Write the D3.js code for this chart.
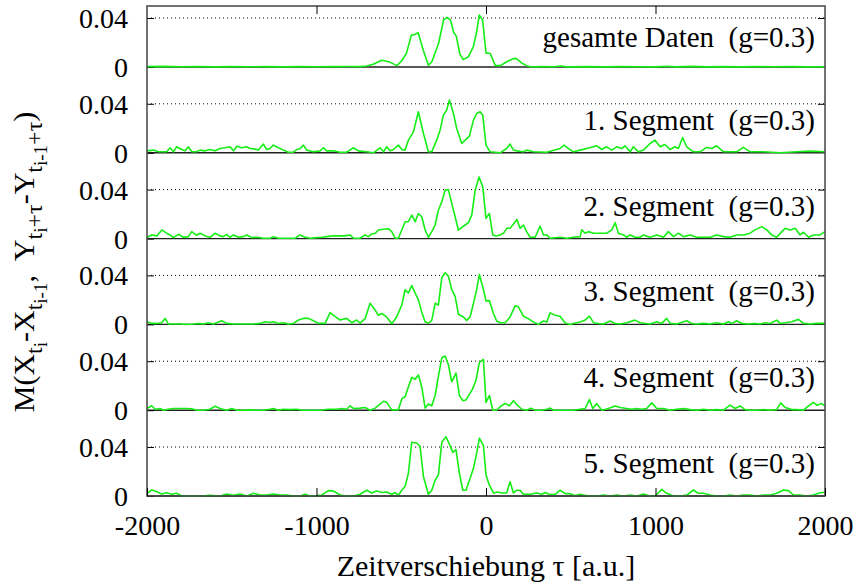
<!DOCTYPE html>
<html>
<head>
<meta charset="utf-8">
<script src="https://cdn.jsdelivr.net/npm/d3@7"></script>
<style>
  body { margin: 0; background: #fff; }
  svg { display: block; }
  svg text { font-family: "Liberation Serif", "Times New Roman", Times, serif; }
</style>
</head>
<body>
<svg width="856" height="588"></svg>
<script>
// [tau, M] pairs
const gesamt = [[-2000,0.0003],[-1900,0.0005],[-1800,0.0002],[-1700,0.0004],[-1600,0.0001],[-1500,0.0003],[-1400,0.0002],[-1300,0.0003],[-1200,0.0001],[-1100,0.0003],[-1000,0.0002],[-900,0.0003],[-800,0.0004],[-745,0.0003],[-705,0.0008],[-665,0.0022],[-615,0.0055],[-585,0.0047],[-565,0.0038],[-525,0.0011],[-495,0.0055],[-470,0.011],[-440,0.026],[-420,0.0266],[-400,0.028],[-370,0.0137],[-340,0.0014],[-320,0.0041],[-280,0.0192],[-250,0.0384],[-230,0.0405],[-210,0.0384],[-190,0.028],[-175,0.0252],[-155,0.011],[-135,0.006],[-105,0.0082],[-75,0.0164],[-55,0.0288],[-40,0.0425],[-20,0.0384],[0,0.0115],[25,0.011],[55,0.0011],[85,0.0011],[120,0.0041],[160,0.0068],[180,0.0068],[210,0.0033],[240,0.0011],[270,0],[320,0.0003],[400,0.0002],[440,0.0008],[480,0.0001],[600,0.0003],[700,0.0001],[800,0.0003],[900,0.0002],[1000,0.0001],[1065,0.0006],[1120,0.0001],[1220,0.0005],[1300,0.0001],[1400,0.0003],[1500,0.0001],[1600,0.0003],[1700,0.0002],[1800,0.0003],[1900,0.0001],[2000,0.0002]];

const seg1 = [[-2000,0.0016],[-1962,0.0022],[-1933,0.0008],[-1884,0.0008],[-1864,0.0041],[-1844,0.0008],[-1825,0.0049],[-1795,0.0027],[-1775,0.0016],[-1756,0.0049],[-1736,0.0008],[-1707,0.0008],[-1687,0.0022],[-1657,0.0016],[-1628,0.0027],[-1598,0.0016],[-1569,0.0035],[-1539,0.0041],[-1510,0.0049],[-1490,0.0016],[-1470,0.0054],[-1441,0.0041],[-1411,0.0049],[-1392,0.0035],[-1362,0.003],[-1343,0.0022],[-1313,0.0071],[-1294,0.0027],[-1274,0.0035],[-1254,0.0063],[-1225,0.0041],[-1195,0.0022],[-1166,0.0005],[-1136,0.0005],[-1117,0.0027],[-1097,0.0033],[-1077,0.0063],[-1058,0.0022],[-1018,0.0008],[-979,0.0016],[-959,0.0041],[-940,0.0016],[-900,0.0016],[-861,0.0005],[-822,0.0005],[-782,0.0041],[-753,0.0016],[-704,0.0008],[-664,0],[-625,0.0041],[-605,0.0008],[-586,0.0049],[-566,0.0016],[-546,0.0027],[-517,0.0063],[-497,0.0027],[-477,0.0022],[-458,0.0103],[-428,0.0171],[-399,0.0335],[-369,0.0158],[-340,0.0008],[-320,0.0008],[-291,0.0103],[-271,0.0185],[-251,0.0307],[-232,0.0348],[-216,0.043],[-192,0.0321],[-173,0.0199],[-143,0.0076],[-123,0.0103],[-98,0.0136],[-74,0.0267],[-55,0.0321],[-35,0.0335],[-19,0.0307],[0,0.0063],[24,0.0008],[83,0],[122,0.0035],[142,0.0071],[162,0.0022],[182,0.0016],[221,0.0008],[240,0.0022],[280,0.0008],[358,0.0005],[437,0.0035],[461,0.0063],[486,0.0035],[516,0.0008],[555,0.0022],[614,0.0041],[653,0.0057],[683,0.0027],[712,0.0049],[742,0.0022],[771,0.0049],[801,0.0035],[820,0.0057],[850,0.0008],[870,0.0049],[899,0.0008],[929,0.0022],[968,0.0076],[997,0.0103],[1027,0.0049],[1056,0.0068],[1086,0.0027],[1115,0.0049],[1135,0.0035],[1160,0.0125],[1184,0.0049],[1223,0.0008],[1263,0.0008],[1302,0.0044],[1332,0.0035],[1361,0.0057],[1401,0.0008],[1479,0.0008],[1518,0.0044],[1558,0.0008],[1637,0.0008],[1735,0],[1833,0.0008],[1912,0.0014],[2000,0.0008]];

const seg2 = [[-2000,0.0011],[-1972,0.003],[-1942,0.0022],[-1913,0.0071],[-1884,0.0044],[-1864,0.003],[-1844,0.0008],[-1815,0.0035],[-1785,0.0011],[-1756,0.0016],[-1736,0.0057],[-1707,0.0027],[-1687,0.0044],[-1657,0.0022],[-1628,0.0011],[-1598,0.0044],[-1569,0.0022],[-1549,0.0016],[-1530,0.0035],[-1510,0.0011],[-1490,0.003],[-1461,0.0011],[-1431,0.0016],[-1411,0.003],[-1382,0.0008],[-1352,0.0011],[-1313,0.0003],[-1274,0.0003],[-1254,0.0016],[-1225,0.0003],[-1195,0.0003],[-1156,0.0003],[-1126,0.0003],[-1097,0.003],[-1067,0.0011],[-1038,0.0003],[-999,0.0008],[-969,0.0011],[-940,0.0016],[-900,0.0022],[-861,0.0022],[-831,0.0022],[-802,0.003],[-782,0.0003],[-743,0.0003],[-713,0.003],[-694,0.0016],[-674,0.0038],[-654,0.0043],[-635,0.007],[-605,0.0076],[-576,0.0081],[-556,0.0057],[-536,0.0003],[-517,0.0003],[-497,0.007],[-477,0.0138],[-458,0.0138],[-438,0.0192],[-418,0.0138],[-399,0.0205],[-379,0.0178],[-359,0.007],[-340,0.0011],[-320,0.0057],[-300,0.0111],[-281,0.0232],[-261,0.03],[-241,0.0395],[-222,0.04],[-202,0.0286],[-182,0.0178],[-163,0.007],[-143,0.0092],[-123,0.0111],[-104,0.013],[-84,0.0192],[-64,0.0395],[-41,0.0503],[-19,0.0422],[0,0.0165],[20,0.0205],[40,0.003],[60,0.0022],[83,0.003],[103,0.0043],[122,0.0084],[142,0.0084],[162,0.0119],[182,0.0157],[201,0.0084],[221,0.0111],[240,0.0057],[260,0.0011],[290,0.0011],[319,0.0103],[339,0.003],[359,0.003],[378,0.0003],[437,0.0011],[477,0.0003],[516,0.0011],[555,0.0016],[565,0.0071],[585,0.0044],[604,0.0057],[634,0.0044],[673,0.0044],[712,0.0044],[742,0.0071],[762,0.0131],[781,0.0044],[811,0.003],[830,0.0011],[850,0.003],[880,0.0011],[909,0.0011],[929,0.003],[968,0.0011],[1007,0.003],[1047,0.0011],[1076,0.0057],[1106,0.0016],[1135,0.0044],[1165,0.0016],[1204,0.003],[1244,0.0011],[1283,0.0011],[1322,0.0011],[1361,0.003],[1401,0.0016],[1440,0.0011],[1479,0.003],[1519,0.003],[1558,0.0044],[1587,0.0071],[1627,0.0098],[1656,0.0071],[1686,0.003],[1715,0.0011],[1745,0.0057],[1765,0.0084],[1794,0.0071],[1824,0.0084],[1853,0.003],[1873,0.0052],[1903,0.0011],[1932,0.003],[1971,0.003],[2000,0.0057]];

const seg3 = [[-2000,0.0022],[-1972,0.0008],[-1942,0.0008],[-1913,0.0014],[-1893,0.0049],[-1874,0.0003],[-1844,0.0003],[-1805,0.0003],[-1766,0],[-1726,0.0003],[-1697,0.0008],[-1667,0.0003],[-1638,0.0014],[-1608,0.0003],[-1559,0.003],[-1530,0.0008],[-1490,0.0003],[-1451,0.0003],[-1411,0.0003],[-1372,0.0003],[-1333,0.0008],[-1303,0.0022],[-1274,0.0016],[-1254,0.0022],[-1225,0.0008],[-1195,0.0014],[-1166,0.0003],[-1136,0.0008],[-1107,0.0036],[-1077,0.0049],[-1048,0.0049],[-1018,0.003],[-989,0.0008],[-949,0.0008],[-920,0.0096],[-890,0.0063],[-861,0.0036],[-822,0.0049],[-792,0.0014],[-763,0.0036],[-743,0.0011],[-713,0.0047],[-684,0.0172],[-654,0.0117],[-635,0.0075],[-615,0.0089],[-586,0.0061],[-556,0.0006],[-527,0.0061],[-497,0.0158],[-477,0.0283],[-458,0.0256],[-438,0.0317],[-418,0.0256],[-399,0.02],[-379,0.01],[-359,0.0019],[-340,0.0011],[-320,0.0033],[-300,0.0172],[-281,0.0158],[-261,0.0381],[-241,0.0422],[-222,0.0394],[-202,0.0283],[-182,0.0228],[-163,0.0083],[-133,0.0061],[-114,0.0033],[-94,0.0061],[-74,0.0172],[-55,0.0283],[-39,0.0408],[-15,0.0283],[0,0.0192],[20,0.0194],[44,0.0089],[63,0.0028],[83,0.0014],[113,0.0014],[142,0.0061],[172,0.0153],[191,0.0144],[221,0.0067],[250,0.0047],[280,0.0019],[309,0],[339,0.0028],[359,0.0019],[378,0.0094],[408,0.0075],[437,0.0067],[467,0.0011],[496,0],[526,0.0011],[555,0.0019],[585,0.0035],[610,0.0068],[634,0.0014],[663,0.0008],[693,0.0003],[732,0.0027],[762,0.0008],[791,0.0003],[830,0.0014],[879,0.0035],[909,0.0014],[968,0.0003],[1007,0.0022],[1037,0.0008],[1066,0.0049],[1086,0.0008],[1125,0.0003],[1184,0.003],[1214,0.0008],[1243,0.0003],[1283,0.0008],[1322,0.0003],[1361,0.0014],[1401,0.0003],[1430,0.0022],[1450,0.0008],[1479,0.003],[1509,0.0008],[1548,0.0003],[1588,0.0008],[1617,0.0003],[1646,0.0014],[1676,0.0008],[1716,0.0035],[1735,0.0008],[1765,0.0014],[1804,0.0022],[1843,0.0041],[1873,0.0008],[1912,0.0003],[1951,0.0008],[2000,0.0008]];

const seg4 = [[-2000,0.0014],[-1972,0.0036],[-1952,0.0008],[-1923,0.0014],[-1903,0],[-1874,0.0008],[-1844,0.0014],[-1795,0.0014],[-1766,0.0014],[-1736,0.0011],[-1707,0],[-1667,0],[-1628,0.0008],[-1598,0.0033],[-1569,0.0014],[-1530,0],[-1500,0.0014],[-1470,0],[-1431,0],[-1392,0.0003],[-1352,0],[-1313,0],[-1274,0.0008],[-1254,0.0014],[-1225,0],[-1195,0.0008],[-1156,0.0005],[-1117,0.0008],[-1087,0],[-1048,0],[-1008,0],[-979,0],[-930,0.0008],[-880,0.0008],[-851,0.0014],[-822,0.0008],[-802,0.0036],[-782,0.0014],[-743,0.0017],[-713,0.0022],[-684,0],[-654,0.0017],[-625,0.005],[-605,0.0073],[-586,0.0064],[-556,0.0003],[-517,0.0003],[-497,0.0092],[-477,0.0112],[-458,0.019],[-438,0.0268],[-418,0.0252],[-399,0.0288],[-379,0.019],[-359,0.0017],[-340,0.005],[-320,0.0036],[-300,0.012],[-281,0.0274],[-261,0.0428],[-241,0.0442],[-222,0.0372],[-202,0.0232],[-177,0.0302],[-157,0.012],[-137,0.0078],[-118,0.0084],[-98,0.0129],[-78,0.0176],[-59,0.0246],[-39,0.0391],[-15,0.0414],[0,0.0064],[20,0.012],[40,0],[63,0],[83,0.0028],[113,0.0056],[138,0.0036],[162,0.0078],[182,0.0045],[211,0.0008],[240,0],[264,0.0017],[290,0],[329,0],[359,0.0008],[378,0.0017],[398,0],[437,0],[477,0],[516,0],[555,0.0008],[585,0.0014],[610,0.0087],[630,0.0014],[653,0.0054],[683,0],[722,0.0014],[762,0.0035],[791,0.0022],[830,0.0014],[860,0.0008],[889,0.0014],[919,0.0008],[948,0.0014],[978,0.006],[1007,0.0014],[1047,0.0014],[1086,0],[1125,0.0008],[1165,0.0014],[1204,0.0005],[1243,0],[1283,0.0008],[1322,0],[1361,0.0005],[1401,0],[1440,0.0041],[1469,0.0014],[1499,0.0035],[1528,0.0005],[1558,0],[1597,0],[1637,0.0005],[1676,0],[1715,0.0005],[1739,0.006],[1765,0.0022],[1804,0.0005],[1834,0.0005],[1873,0],[1903,0.0035],[1932,0.0063],[1952,0.0041],[1981,0.0054],[2000,0.0035]];

const seg5 = [[-2000,0.0022],[-1972,0.0049],[-1942,0.0035],[-1913,0.0016],[-1884,0.0027],[-1854,0.0014],[-1825,0.0022],[-1795,0],[-1746,0],[-1687,0],[-1628,0.0005],[-1569,0],[-1530,0.0016],[-1490,0.0005],[-1451,0.0016],[-1411,0],[-1372,0.0022],[-1333,0.0008],[-1294,0.0008],[-1254,0.0016],[-1215,0.0008],[-1176,0.0008],[-1136,0],[-1097,0],[-1067,0.0014],[-1038,0],[-999,0.0003],[-969,0.0008],[-930,0.0044],[-900,0.0041],[-861,0.0008],[-822,0],[-782,0],[-743,0.0014],[-704,0.0047],[-674,0.0025],[-645,0.0041],[-615,0.0028],[-586,0.0033],[-556,0.0014],[-536,0.0028],[-517,0.0006],[-497,0.0047],[-477,0.008],[-458,0.0185],[-438,0.0439],[-409,0.0433],[-389,0.0406],[-369,0.0157],[-340,0.0014],[-320,0.0047],[-300,0.013],[-281,0.0171],[-261,0.0439],[-236,0.0483],[-212,0.0411],[-196,0.0356],[-177,0.0378],[-157,0.0185],[-137,0.0047],[-118,0.0047],[-94,0.0143],[-74,0.0226],[-55,0.035],[-39,0.0472],[-15,0.0411],[0,0.0171],[20,0.0088],[44,0.0025],[67,0.0033],[93,0.0025],[122,0.0025],[142,0.0116],[162,0.0025],[182,0.0047],[201,0.0047],[221,0.0014],[260,0.0014],[299,0.0025],[329,0.0014],[349,0.0028],[378,0.0011],[408,0.0014],[437,0.0047],[467,0.0019],[496,0.0019],[526,0.0003],[555,0.0014],[575,0.0008],[614,0],[653,0],[693,0.0008],[732,0],[771,0.0008],[811,0],[850,0.0008],[889,0],[929,0.0016],[968,0],[998,0],[1037,0.0054],[1066,0.0022],[1106,0],[1145,0],[1184,0.0008],[1224,0.0049],[1253,0.0022],[1283,0.0022],[1322,0.0008],[1361,0],[1401,0],[1440,0.0008],[1479,0],[1519,0.0008],[1558,0.0008],[1597,0],[1637,0.0008],[1676,0.0008],[1715,0.0022],[1755,0.0049],[1784,0.0044],[1814,0.0008],[1853,0.0008],[1892,0],[1932,0.0008],[1971,0.0027],[2000,0.003]];

const panelSeries = [gesamt, seg1, seg2, seg3, seg4, seg5];
const panelLabels = ["gesamte Daten  (g=0.3)", "1. Segment  (g=0.3)", "2. Segment  (g=0.3)",
                     "3. Segment  (g=0.3)", "4. Segment  (g=0.3)", "5. Segment  (g=0.3)"];
const xTicks = [-2000, -1000, 0, 1000, 2000];
const yTicks = [0, 0.04];

const FONT = 28;
const SERIF = "'Liberation Serif', 'Times New Roman', Times, serif";
const frame = { left: 147, right: 825, top: 6, bottom: 496 };
const panelStep = 85.8;
const unit04 = 49; // pixels from 0 to 0.04

const svg = d3.select("svg").attr("font-family", SERIF);

const x = d3.scaleLinear().domain([-2000, 2000]).range([frame.left, frame.right]);

const line = d3.line().x(d => x(d[0]));

panelSeries.forEach((series, i) => {
  const zero = frame.bottom - (panelSeries.length - 1 - i) * panelStep;
  const y = d3.scaleLinear().domain([0, 0.04]).range([zero, zero - unit04]);
  const g = svg.append("g").attr("class", "panel");

  // dotted line at 0.04
  g.append("line")
    .attr("x1", frame.left).attr("x2", frame.right)
    .attr("y1", y(0.04)).attr("y2", y(0.04))
    .attr("stroke", "#000").attr("stroke-width", 1)
    .attr("stroke-dasharray", "1,3");

  // zero line
  g.append("line")
    .attr("x1", frame.left).attr("x2", frame.right)
    .attr("y1", y(0)).attr("y2", y(0))
    .attr("stroke", "#222").attr("stroke-width", 1.4);

  // left axis
  const ax = g.append("g")
    .attr("transform", `translate(${frame.left},0)`)
    .call(d3.axisLeft(y).tickValues(yTicks).tickSize(-7).tickPadding(19)
      .tickFormat(d => d === 0 ? "0" : d3.format(".2f")(d)));
  ax.select(".domain").remove();
  ax.attr("font-family", SERIF).attr("font-size", FONT);
  ax.selectAll("text").attr("fill", "#000").attr("dy", "0.34em");
  ax.selectAll("line").attr("stroke", "#000");

  // right axis
  const axr = g.append("g")
    .attr("transform", `translate(${frame.right},0)`)
    .call(d3.axisRight(y).tickValues([0.04]).tickSize(-7).tickFormat(""));
  axr.select(".domain").remove();
  axr.selectAll("line").attr("stroke", "#000");

  // series
  g.append("path")
    .datum(series)
    .attr("fill", "none")
    .attr("stroke", "#14ee14")
    .attr("stroke-width", 1.6)
    .attr("stroke-linejoin", "round")
    .attr("d", line.y(d => y(d[1])));

  // label
  g.append("text")
    .attr("x", 815)
    .attr("y", zero - (i === 0 ? 20 : 23))
    .attr("text-anchor", "end")
    .attr("font-family", SERIF)
    .attr("font-size", 29)
    .style("white-space", "pre")
    .text(panelLabels[i]);
});

// frame
svg.append("rect")
  .attr("x", frame.left).attr("y", frame.top)
  .attr("width", frame.right - frame.left).attr("height", frame.bottom - frame.top)
  .attr("fill", "none").attr("stroke", "#444").attr("stroke-width", 1.5);

// bottom axis
const xb = svg.append("g")
  .attr("transform", `translate(0,${frame.bottom})`)
  .call(d3.axisBottom(x).tickValues(xTicks).tickSize(-8).tickPadding(19).tickFormat(d => String(d)));
xb.select(".domain").remove();
xb.attr("font-family", SERIF).attr("font-size", FONT);
xb.selectAll("text").attr("fill", "#000");
xb.selectAll("line").attr("stroke", "#000");

// top axis (ticks only)
const xt = svg.append("g")
  .attr("transform", `translate(0,${frame.top})`)
  .call(d3.axisTop(x).tickValues(xTicks.slice(1, -1)).tickSize(-8).tickFormat(""));
xt.select(".domain").remove();
xt.selectAll("line").attr("stroke", "#000");

// x label
svg.append("text")
  .attr("x", x(0))
  .attr("y", 576)
  .attr("text-anchor", "middle")
  .attr("font-family", SERIF)
  .attr("font-size", 30)
  .text("Zeitverschiebung τ [a.u.]");

// y label with nested subscripts
const yParts = [["M(X", 0], ["t", 1], ["i", 2], ["-X", 0], ["t", 1], ["i-1", 2], [",  ", 0],
                ["Y", 0], ["t", 1], ["i", 2], ["+τ", 1], ["-Y", 0], ["t", 1], ["i-1", 2], ["+τ", 1], [")", 0]];
const levelSize = [30, 24, 19];
const levelShift = [0, 8, 13];
const ylab = svg.append("text")
  .attr("transform", "translate(34,262) rotate(-90)")
  .attr("text-anchor", "middle")
  .attr("font-family", SERIF)
  .style("white-space", "pre");
let prev = 0;
yParts.forEach(([t, lvl]) => {
  ylab.append("tspan")
    .attr("dy", levelShift[lvl] - levelShift[prev])
    .attr("font-size", levelSize[lvl])
    .text(t);
  prev = lvl;
});
</script>
</body>
</html>
